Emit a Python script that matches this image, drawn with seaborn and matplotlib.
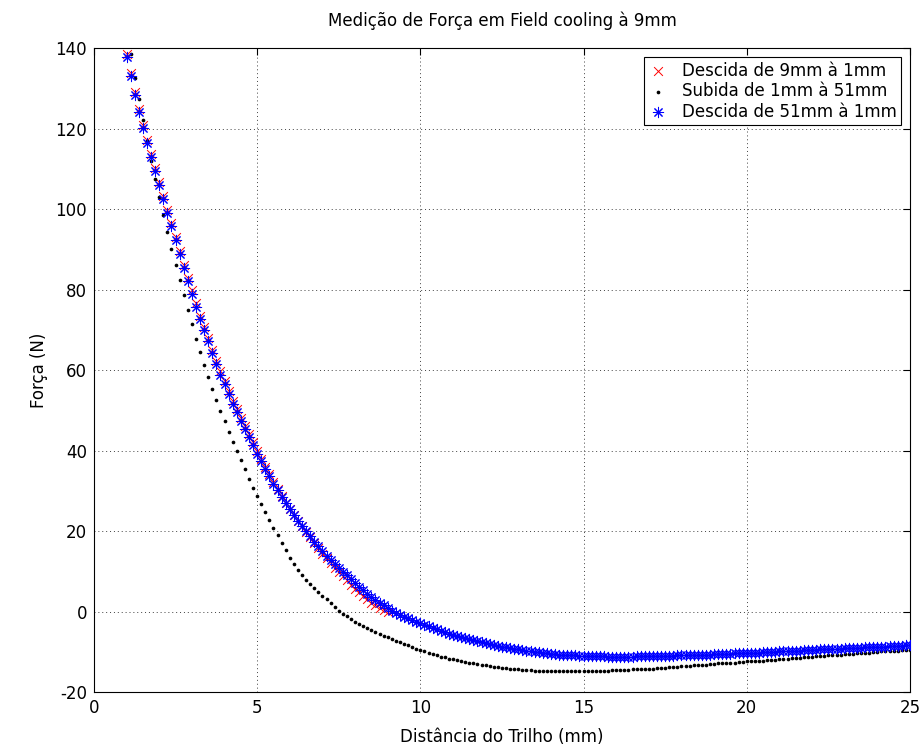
import numpy as np
import pandas as pd
import seaborn as sns
import matplotlib.pyplot as plt

# measurement positions (mm), 0.125 mm steps
x_desc9 = np.arange(1.0, 9.0001, 0.125)
x_full = np.arange(1.0, 25.0001, 0.125)

# Descida de 9mm à 1mm (values listed from 1mm up to 9mm)
forca_desc9 = [
    138.6, 133.8, 129.2, 125.0, 121.0, 117.3, 113.8, 110.3,
    106.8, 103.3, 99.8, 96.5, 93.2, 89.6, 86.1, 82.9,
    79.8, 76.6, 73.5, 70.7, 68.0, 65.1, 62.2, 59.7,
    57.3, 54.8, 52.4, 50.3, 48.2, 46.2, 44.2, 42.1,
    40.0, 38.0, 36.0, 34.1, 32.2, 30.4, 28.7, 27.0,
    25.5, 24.0, 22.6, 21.2, 19.8, 18.4, 17.0, 15.7,
    14.4, 13.2, 12.0, 10.9, 9.8, 8.8, 7.8, 6.7,
    5.7, 4.8, 3.9, 3.0, 2.2, 1.5, 0.9, 0.4,
    0.0,
]

# Subida de 1mm à 51mm (visible part, 1mm .. 25mm)
forca_subida = [
    144.0, 138.6, 132.7, 127.3, 122.2, 117.0, 112.0, 107.5,
    103.0, 98.6, 94.2, 90.2, 86.2, 82.3, 78.7, 75.0,
    71.4, 67.8, 64.5, 61.3, 58.2, 55.3, 52.6, 49.9,
    47.3, 44.7, 42.2, 39.9, 37.6, 35.3, 33.0, 30.8,
    28.6, 26.7, 24.8, 22.8, 20.8, 18.9, 17.0, 15.2,
    13.4, 11.8, 10.3, 9.1, 7.9, 6.8, 5.8, 4.8,
    3.8, 3.0, 2.2, 1.2, 0.2, -0.5, -1.2, -1.9,
    -2.6, -3.1, -3.6, -4.2, -4.7, -5.2, -5.6, -6.0,
    -6.4, -6.8, -7.2, -7.6, -8.0, -8.4, -8.8, -9.2,
    -9.6, -9.9, -10.3, -10.6, -10.9, -11.2, -11.4, -11.7,
    -11.9, -12.1, -12.4, -12.6, -12.8, -12.9, -13.1, -13.2,
    -13.4, -13.6, -13.7, -13.9, -14.0, -14.1, -14.2, -14.3,
    -14.4, -14.5, -14.6, -14.6, -14.7, -14.7, -14.8, -14.8,
    -14.8, -14.8, -14.8, -14.9, -14.9, -14.9, -14.8, -14.8,
    -14.8, -14.8, -14.8, -14.7, -14.7, -14.7, -14.7, -14.6,
    -14.6, -14.6, -14.5, -14.5, -14.4, -14.4, -14.3, -14.3,
    -14.2, -14.2, -14.1, -14.0, -14.0, -13.9, -13.8, -13.7,
    -13.6, -13.5, -13.5, -13.4, -13.3, -13.3, -13.2, -13.1,
    -13.0, -12.9, -12.9, -12.8, -12.7, -12.7, -12.6, -12.5,
    -12.4, -12.4, -12.3, -12.2, -12.2, -12.1, -12.0, -12.0,
    -11.9, -11.8, -11.7, -11.6, -11.6, -11.5, -11.4, -11.3,
    -11.2, -11.1, -11.1, -11.0, -10.9, -10.8, -10.8, -10.7,
    -10.6, -10.5, -10.5, -10.4, -10.3, -10.2, -10.2, -10.1,
    -10.0, -9.9, -9.9, -9.8, -9.7, -9.7, -9.6, -9.6,
    -9.5,
]

# Descida de 51mm à 1mm (visible part, listed from 1mm up to 25mm)
forca_desc51 = [
    137.8, 133.0, 128.4, 124.2, 120.2, 116.5, 113.0, 109.5,
    106.0, 102.5, 99.0, 95.7, 92.4, 88.8, 85.3, 82.1,
    79.0, 75.8, 72.7, 69.9, 67.2, 64.3, 61.4, 58.9,
    56.5, 54.0, 51.6, 49.5, 47.4, 45.4, 43.4, 41.3,
    39.2, 37.3, 35.4, 33.6, 31.8, 30.1, 28.5, 26.9,
    25.4, 24.0, 22.6, 21.3, 20.0, 18.7, 17.4, 16.2,
    15.0, 13.9, 12.8, 11.8, 10.8, 9.9, 9.0, 8.0,
    7.0, 6.1, 5.3, 4.4, 3.6, 2.9, 2.2, 1.5,
    0.8, 0.2, -0.4, -0.9, -1.3, -1.7, -2.1, -2.5,
    -2.9, -3.3, -3.7, -4.0, -4.4, -4.8, -5.1, -5.5,
    -5.8, -6.1, -6.4, -6.6, -6.9, -7.1, -7.4, -7.6,
    -7.8, -8.0, -8.3, -8.5, -8.7, -8.9, -9.1, -9.2,
    -9.4, -9.6, -9.7, -9.9, -10.0, -10.1, -10.3, -10.4,
    -10.5, -10.6, -10.7, -10.7, -10.8, -10.9, -10.9, -11.0,
    -11.0, -11.0, -11.1, -11.1, -11.1, -11.1, -11.2, -11.2,
    -11.2, -11.2, -11.2, -11.2, -11.2, -11.1, -11.1, -11.1,
    -11.1, -11.1, -11.1, -11.0, -11.0, -11.0, -11.0, -10.9,
    -10.9, -10.9, -10.8, -10.8, -10.8, -10.7, -10.7, -10.7,
    -10.6, -10.6, -10.6, -10.5, -10.5, -10.4, -10.4, -10.3,
    -10.3, -10.3, -10.2, -10.2, -10.1, -10.1, -10.0, -10.0,
    -9.9, -9.9, -9.8, -9.8, -9.7, -9.7, -9.6, -9.6,
    -9.5, -9.5, -9.4, -9.4, -9.3, -9.3, -9.2, -9.2,
    -9.1, -9.1, -9.0, -9.0, -9.0, -8.9, -8.9, -8.8,
    -8.8, -8.7, -8.7, -8.6, -8.6, -8.5, -8.5, -8.4,
    -8.4,
]

labels = ["Descida de 9mm à 1mm", "Subida de 1mm à 51mm", "Descida de 51mm à 1mm"]

sns.set_style("white")
plt.rcParams['font.family'] = ['DejaVu Sans']
plt.rcParams['axes.unicode_minus'] = False
plt.rcParams['text.color'] = 'black'
plt.rcParams['axes.labelcolor'] = 'black'
fs = 12

fig = plt.figure(figsize=(9.21, 7.53), dpi=100)
ax = fig.add_axes([0.102, 0.081, 0.886, 0.855])

asterisk = (8, 2, 0)

sns.scatterplot(x=x_desc9, y=forca_desc9, ax=ax, marker='x', color='red',
                s=40, linewidth=0.7, label=labels[0], zorder=3)
sns.scatterplot(x=x_full, y=forca_subida, ax=ax, marker='o', color='black',
                s=7, linewidth=0, label=labels[1], zorder=4)
sns.scatterplot(x=x_full, y=forca_desc51, ax=ax, marker=asterisk, color='blue',
                s=55, linewidth=0.75, label=labels[2], zorder=5)

ax.set_xlim(0, 25)
ax.set_ylim(-20, 140)
ax.set_xticks([0, 5, 10, 15, 20, 25])
ax.set_yticks([-20, 0, 20, 40, 60, 80, 100, 120, 140])
ax.grid(True, color='0.25', linestyle=(0, (1, 3)), linewidth=0.7)
ax.tick_params(direction='in', length=5, width=0.8, top=True, right=True,
               labelsize=fs, colors='black', pad=5)
for sp in ax.spines.values():
    sp.set_visible(True)
    sp.set_color('black')
    sp.set_linewidth(0.8)

ax.set_xlabel("Distância do Trilho (mm)", fontsize=fs, labelpad=8)
ax.set_ylabel("Força (N)", fontsize=fs, labelpad=5)
ax.set_title("Medição de Força em Field cooling à 9mm", fontsize=fs, pad=16)

leg = ax.legend(loc='upper right', fontsize=fs, frameon=True, fancybox=False,
                edgecolor='black', borderaxespad=0.55, handlelength=1.2,
                handletextpad=0.8, borderpad=0.25, labelspacing=0.15,
                markerscale=1.0)
leg.get_frame().set_linewidth(0.8)
leg.get_frame().set_alpha(1)

plt.savefig("out.png", dpi=100)
plt.close()
